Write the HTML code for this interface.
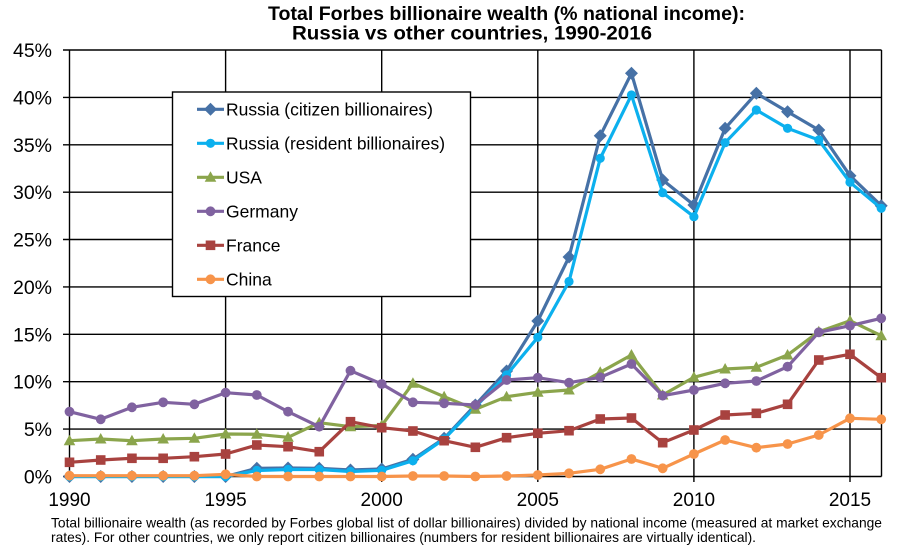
<!DOCTYPE html>
<html>
<head>
<meta charset="utf-8">
<style>
  html, body { margin:0; padding:0; background:#fff; }
  svg { display:block; }
  text { font-family: "Liberation Sans", Arial, sans-serif; fill:#000; }
</style>
</head>
<body>
<svg width="916" height="559" viewBox="0 0 916 559" xmlns="http://www.w3.org/2000/svg">
  <defs>
    <marker id="mDia" markerUnits="userSpaceOnUse" markerWidth="16" markerHeight="16" refX="8" refY="8" overflow="visible">
      <path d="M8,1.5 L14.5,8 L8,14.5 L1.5,8 Z" fill="#4671A6"/>
    </marker>
    <marker id="mRes" markerUnits="userSpaceOnUse" markerWidth="16" markerHeight="16" refX="8" refY="8" overflow="visible">
      <circle cx="8" cy="8" r="4.6" fill="#0CB0EE"/>
    </marker>
    <marker id="mTri" markerUnits="userSpaceOnUse" markerWidth="16" markerHeight="16" refX="8" refY="8" overflow="visible">
      <path d="M8,2 L13.8,12.5 L2.2,12.5 Z" fill="#8BA54C"/>
    </marker>
    <marker id="mGer" markerUnits="userSpaceOnUse" markerWidth="16" markerHeight="16" refX="8" refY="8" overflow="visible">
      <circle cx="8" cy="8" r="4.9" fill="#8062A0"/>
    </marker>
    <marker id="mFra" markerUnits="userSpaceOnUse" markerWidth="16" markerHeight="16" refX="8" refY="8" overflow="visible">
      <rect x="3.2" y="3.2" width="9.6" height="9.6" fill="#A8423F"/>
    </marker>
    <marker id="mChi" markerUnits="userSpaceOnUse" markerWidth="16" markerHeight="16" refX="8" refY="8" overflow="visible">
      <circle cx="8" cy="8" r="4.9" fill="#F7944A"/>
    </marker>
  </defs>

  <!-- Title -->
  <text x="268" y="20" font-size="19.5" font-weight="bold" textLength="477" lengthAdjust="spacingAndGlyphs">Total Forbes billionaire wealth  (% national income):</text>
  <text x="292" y="39.5" font-size="19.5" font-weight="bold" textLength="360" lengthAdjust="spacingAndGlyphs">Russia vs other countries, 1990-2016</text>

  <!-- Gridlines -->
  <g stroke="#000" stroke-width="1.4" fill="none">
    <line x1="63" y1="50" x2="881.5" y2="50"/>
    <line x1="63" y1="97.4" x2="881.5" y2="97.4"/>
    <line x1="63" y1="144.8" x2="881.5" y2="144.8"/>
    <line x1="63" y1="192.2" x2="881.5" y2="192.2"/>
    <line x1="63" y1="239.5" x2="881.5" y2="239.5"/>
    <line x1="63" y1="286.9" x2="881.5" y2="286.9"/>
    <line x1="63" y1="334.3" x2="881.5" y2="334.3"/>
    <line x1="63" y1="381.7" x2="881.5" y2="381.7"/>
    <line x1="63" y1="429.1" x2="881.5" y2="429.1"/>
    <line x1="63" y1="476.5" x2="881.5" y2="476.5"/>
    <line x1="69.5" y1="50" x2="69.5" y2="482"/>
    <line x1="225.6" y1="50" x2="225.6" y2="482"/>
    <line x1="381.7" y1="50" x2="381.7" y2="482"/>
    <line x1="537.8" y1="50" x2="537.8" y2="482"/>
    <line x1="693.9" y1="50" x2="693.9" y2="482"/>
    <line x1="850" y1="50" x2="850" y2="482"/>
    <line x1="881.5" y1="50" x2="881.5" y2="476.5"/>
  </g>

  <!-- Y labels -->
  <g font-size="19.5" text-anchor="end">
    <text x="52" y="57">45%</text>
    <text x="52" y="104.4">40%</text>
    <text x="52" y="151.8">35%</text>
    <text x="52" y="199.2">30%</text>
    <text x="52" y="246.5">25%</text>
    <text x="52" y="293.9">20%</text>
    <text x="52" y="341.3">15%</text>
    <text x="52" y="388.7">10%</text>
    <text x="52" y="436.1">5%</text>
    <text x="52" y="483.5">0%</text>
  </g>

  <!-- X labels -->
  <g font-size="19" text-anchor="middle">
    <text x="69.5" y="506">1990</text>
    <text x="225.6" y="506">1995</text>
    <text x="381.7" y="506">2000</text>
    <text x="537.8" y="506">2005</text>
    <text x="693.9" y="506">2010</text>
    <text x="850" y="506">2015</text>
  </g>

  <!-- Legend -->
  <rect x="172.5" y="92" width="298" height="204.5" fill="#fff" stroke="#000" stroke-width="1.4"/>
  <g stroke-width="3.2">
    <line x1="197" y1="109.3" x2="224" y2="109.3" stroke="#4671A6"/>
    <line x1="197" y1="143.3" x2="224" y2="143.3" stroke="#0CB0EE"/>
    <line x1="197" y1="177.3" x2="224" y2="177.3" stroke="#8BA54C"/>
    <line x1="197" y1="211.3" x2="224" y2="211.3" stroke="#8062A0"/>
    <line x1="197" y1="245.3" x2="224" y2="245.3" stroke="#A8423F"/>
    <line x1="197" y1="279.3" x2="224" y2="279.3" stroke="#F7944A"/>
  </g>
  <path d="M210.5,102.8 L217,109.3 L210.5,115.8 L204,109.3 Z" fill="#4671A6"/>
  <circle cx="210.5" cy="143.3" r="4.6" fill="#0CB0EE"/>
  <path d="M210.5,171.3 L216.3,181.8 L204.7,181.8 Z" fill="#8BA54C"/>
  <circle cx="210.5" cy="211.3" r="4.9" fill="#8062A0"/>
  <rect x="205.7" y="240.5" width="9.6" height="9.6" fill="#A8423F"/>
  <circle cx="210.5" cy="279.3" r="4.9" fill="#F7944A"/>
  <g font-size="17.5">
    <text x="226" y="115.5" textLength="207" lengthAdjust="spacingAndGlyphs">Russia (citizen billionaires)</text>
    <text x="226" y="149.5" textLength="219" lengthAdjust="spacingAndGlyphs">Russia (resident billionaires)</text>
    <text x="226" y="183.5">USA</text>
    <text x="226" y="217.5">Germany</text>
    <text x="226" y="251.5">France</text>
    <text x="226" y="285.5">China</text>
  </g>

  <!-- Series -->
  <g fill="none" stroke-width="3.2" stroke-linejoin="round">
    <polyline stroke="#4671A6" marker-start="url(#mDia)" marker-mid="url(#mDia)" marker-end="url(#mDia)"
      points="69.5,476.5 100.72,476.5 131.94,476.5 163.16,476.5 194.38,476.5 225.6,476.5 256.82,468.3 288.04,468 319.26,468.3 350.48,470 381.7,469 412.92,459.3 444.14,438.3 475.36,405 506.58,371 537.8,321 569.02,257 600.24,135.7 631.46,73.3 662.68,180 693.9,205 725.12,128.3 756.34,93.3 787.56,111.7 818.78,130 850,175.7 881.22,205.7"/>
    <polyline stroke="#0CB0EE" marker-start="url(#mRes)" marker-mid="url(#mRes)" marker-end="url(#mRes)"
      points="69.5,476.5 100.72,476.5 131.94,476.5 163.16,476.5 194.38,476.5 225.6,476.5 256.82,470.5 288.04,469.5 319.26,469.5 350.48,471.5 381.7,470.3 412.92,460.7 444.14,439 475.36,407 506.58,375 537.8,337.3 569.02,281.5 600.24,158.3 631.46,95 662.68,192.7 693.9,216.7 725.12,142.7 756.34,110 787.56,128.3 818.78,140 850,182.3 881.22,208.3"/>
    <polyline stroke="#8BA54C" marker-start="url(#mTri)" marker-mid="url(#mTri)" marker-end="url(#mTri)"
      points="69.5,440.7 100.72,439 131.94,440.7 163.16,439 194.38,438.3 225.6,434 256.82,434.3 288.04,437.3 319.26,422.7 350.48,426.7 381.7,425.5 412.92,383.3 444.14,396.7 475.36,409.3 506.58,396.7 537.8,392.3 569.02,390 600.24,372.3 631.46,355 662.68,395 693.9,377.3 725.12,369 756.34,367.3 787.56,355 818.78,331.7 850,320.7 881.22,335.7"/>
    <polyline stroke="#8062A0" marker-start="url(#mGer)" marker-mid="url(#mGer)" marker-end="url(#mGer)"
      points="69.5,411.7 100.72,419.3 131.94,407.3 163.16,402.3 194.38,404.3 225.6,392.7 256.82,395 288.04,411.7 319.26,426.7 350.48,370.7 381.7,384 412.92,402.3 444.14,403.3 475.36,405 506.58,380 537.8,377.7 569.02,382.7 600.24,377.3 631.46,364 662.68,395.7 693.9,390 725.12,383.3 756.34,381 787.56,366.7 818.78,332.3 850,325.7 881.22,318.3"/>
    <polyline stroke="#A8423F" marker-start="url(#mFra)" marker-mid="url(#mFra)" marker-end="url(#mFra)"
      points="69.5,462.3 100.72,460 131.94,458.3 163.16,458.3 194.38,456.7 225.6,454 256.82,445 288.04,446.7 319.26,451.7 350.48,421.7 381.7,427.7 412.92,431 444.14,440.7 475.36,447.3 506.58,437.7 537.8,433.3 569.02,430.7 600.24,419 631.46,418 662.68,442.7 693.9,430 725.12,415 756.34,413.3 787.56,404.3 818.78,360 850,354.3 881.22,377.7"/>
    <polyline stroke="#F7944A" marker-start="url(#mChi)" marker-mid="url(#mChi)" marker-end="url(#mChi)"
      points="69.5,475.7 100.72,475.7 131.94,475.7 163.16,475.7 194.38,475.7 225.6,474.3 256.82,476.5 288.04,476.5 319.26,476.5 350.48,476.5 381.7,476.5 412.92,476 444.14,476 475.36,476.5 506.58,476 537.8,475 569.02,473.3 600.24,469.3 631.46,459 662.68,468.3 693.9,454 725.12,440 756.34,447.7 787.56,444 818.78,435 850,418.3 881.22,419.3"/>
  </g>

  <!-- Footnote -->
  <text x="51" y="527.5" font-size="14" textLength="831" lengthAdjust="spacingAndGlyphs">Total billionaire wealth (as recorded by Forbes global list of dollar billionaires) divided by national income (measured at market exchange</text>
  <text x="51" y="542" font-size="14" textLength="705" lengthAdjust="spacingAndGlyphs">rates). For other countries, we only report citizen billionaires (numbers for resident billionaires are virtually identical).</text>
</svg>
</body>
</html>
